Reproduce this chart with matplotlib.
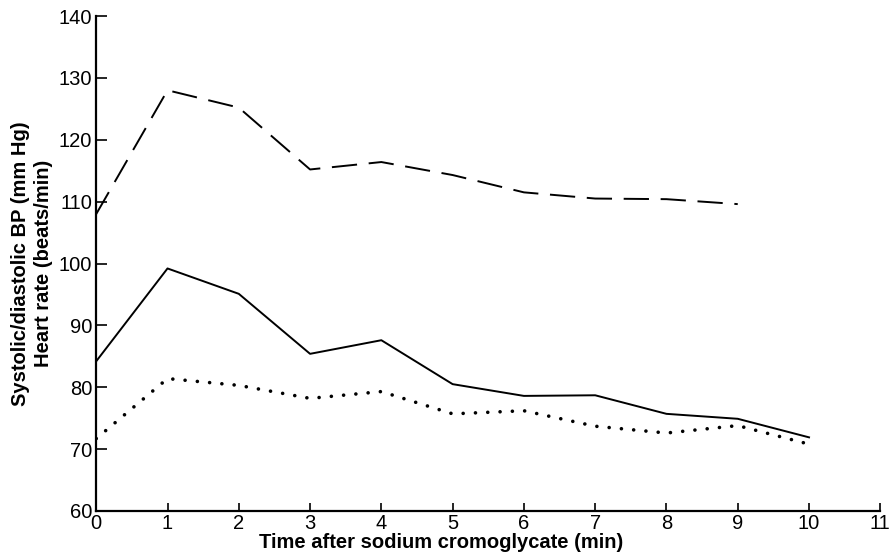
import matplotlib
matplotlib.use("Agg")
import matplotlib.pyplot as plt

plt.rcParams['font.family'] = ['Liberation Sans', 'DejaVu Sans']

# minutes after sodium cromoglycate
minutes = [0, 1, 2, 3, 4, 5, 6, 7, 8, 9, 10]

# values
systolic = [108, 128, 125.2, 115.2, 116.4, 114.3, 111.5, 110.5, 110.4, 109.6]
heart_rate = [84.2, 99.2, 95.1, 85.4, 87.6, 80.5, 78.6, 78.7, 75.7, 74.9, 71.9]
diastolic = [71.7, 81.4, 80.3, 78.2, 79.3, 75.7, 76.2, 73.7, 72.6, 73.8, 70.8]

fig = plt.figure(figsize=(8.91, 5.53), dpi=100)
ax = fig.add_axes([0.108, 0.076, 0.88, 0.895])

ax.plot(minutes[:len(systolic)], systolic, color='black', lw=1.4,
        linestyle=(0, (13, 6)))
ax.plot(minutes, heart_rate, color='black', lw=1.4)
ax.plot(minutes, diastolic, color='black', lw=2.6,
        linestyle=(0, (0.01, 3.4)), dash_capstyle='round')

ax.set_xlim(0, 11)
ax.set_ylim(60, 140)
ax.set_xticks(range(0, 12))
ax.set_yticks(range(60, 141, 10))

for side in ['top', 'right']:
    ax.spines[side].set_visible(False)
for side in ['left', 'bottom']:
    ax.spines[side].set_linewidth(1.6)

ax.tick_params(axis='y', direction='in', length=8, width=1.2, pad=3,
               labelsize=14.5)
ax.tick_params(axis='x', direction='in', length=6, width=1.2, pad=2,
               labelsize=14.5)

ax.set_xlabel('Time after sodium cromoglycate (min)', fontsize=14.5,
              fontweight='bold')
ax.xaxis.set_label_coords(0.44, -0.044)
ax.set_ylabel('Systolic/diastolic BP (mm Hg)\nHeart rate (beats/min)',
              fontsize=14.5, fontweight='bold', labelpad=4, linespacing=1.25)

fig.savefig('out.png', dpi=100)
